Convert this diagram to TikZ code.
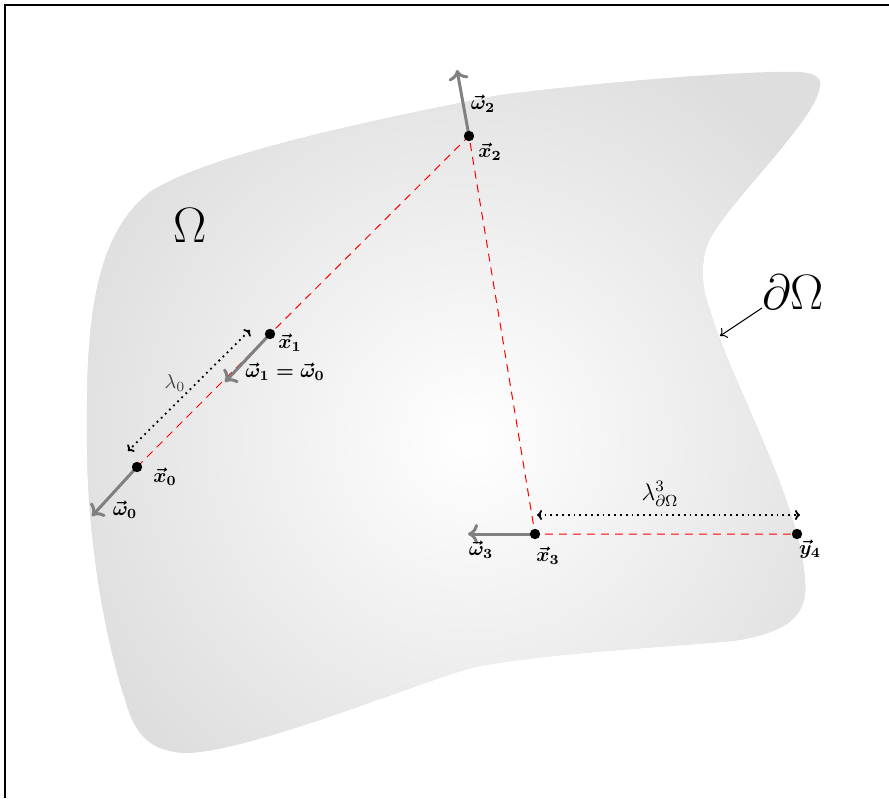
\documentclass[tikz,border=0pt]{standalone}
\usetikzlibrary{arrows.meta}
\begin{document}
\begin{tikzpicture}[x=0.5pt,y=-0.5pt,
  dot/.style={circle,fill=black,inner sep=0pt,minimum size=5.2pt},
  lbl/.style={inner sep=0pt,font=\boldmath},
  dirarrow/.style={draw=gray,line width=1.5pt,-{To[length=5pt,width=10pt]}},
  raypath/.style={draw=red,line width=0.5pt,dash pattern=on 4pt off 3pt},
  distarrow/.style={draw=black,line width=0.9pt,dotted,{To[length=2.5pt,width=5pt]}-{To[length=2.5pt,width=5pt]}},
  pointer/.style={draw=black,line width=0.5pt,-{To[length=3pt,width=6pt]}}]
\useasboundingbox (0,0) rectangle (889,798);
% domain
\def\domainpath{(820,87) .. controls (815,120) and (740,190) .. (712,235)
  .. controls (700,255) and (700,285) .. (710,310)
  .. controls (730,380) and (800,500) .. (805,580)
  .. controls (808,615) and (790,632) .. (733,641)
  .. controls (620,650) and (540,655) .. (480,666)
  .. controls (440,673) and (260,750) .. (187,753)
  .. controls (150,752) and (135,735) .. (125,700)
  .. controls (100,620) and (86,520) .. (87,430)
  .. controls (86,320) and (95,235) .. (150,192)
  .. controls (200,160) and (320,130) .. (500,95)
  .. controls (620,80) and (760,70) .. (800,72)
  .. controls (815,73) and (822,78) .. (820,87) -- cycle}
\fill[black!13] \domainpath;
\begin{scope}
  \clip \domainpath;
  \shade[inner color=white,outer color=black!13] (470,440) circle (430);
\end{scope}
% frame
\draw[line width=1pt] (5,798) -- (5,5) -- (889,5);
% points
\coordinate (p0) at (137,467);
\coordinate (p1) at (270,334);
\coordinate (p2) at (469,136);
\coordinate (p3) at (535,534);
\coordinate (p4) at (797,534);
\draw[raypath] (p0) -- (p1) -- (p2) -- (p3) -- (p4);
% direction arrows
\coordinate (w0e) at (92,516);
\coordinate (w1e) at (225,382);
\coordinate (w2e) at (457,70);
\coordinate (w3e) at (468,534);
\draw[dirarrow] (p0) -- (w0e);
\draw[dirarrow] (p1) -- (w1e);
\draw[dirarrow] (p2) -- (w2e);
\draw[dirarrow] (p3) -- (w3e);
\node[dot] (x0) at (p0) {};
\node[dot] (x1) at (p1) {};
\node[dot] (x2) at (p2) {};
\node[dot] (x3) at (p3) {};
\node[dot] (y4) at (p4) {};
% labels
\node[lbl] (lx0) at (165,477) {$\vec{x}_0$};
\node[lbl] (lw0) at (125,510) {$\vec{\omega}_0$};
\node[lbl] (lx1) at (290,343) {$\vec{x}_1$};
\node[lbl] (lw1) at (285,372) {$\vec{\omega}_1=\vec{\omega}_0$};
\node[lbl] (lx2) at (490,152) {$\vec{x}_2$};
\node[lbl] (lw2) at (483,104) {$\vec{\omega}_2$};
\node[lbl] (lx3) at (548,556) {$\vec{x}_3$};
\node[lbl] (lw3) at (481,550) {$\vec{\omega}_3$};
\node[lbl] (ly4) at (810,549) {$\vec{y}_4$};
% distances
\coordinate (d0a) at (250,330);
\coordinate (d0b) at (128,451);
\draw[distarrow] (d0a) -- (d0b);
\node[inner sep=0pt,text=black!75] (lam0) at (175,383) {$\lambda_0$};
\coordinate (d3a) at (537,515);
\coordinate (d3b) at (800,515);
\draw[distarrow] (d3a) -- (d3b);
\node[inner sep=0pt,font=\large] (lam3) at (660,494) {$\lambda^3_{\partial\Omega}$};
% domain labels
\node[font=\Huge] (omega) at (190,225) {$\Omega$};
\node[font=\Huge] (bnd) at (793,292) {$\partial\Omega$};
\coordinate (bndpt) at (720,336);
\draw[pointer] (762,308) -- (bndpt);
\end{tikzpicture}
\end{document}
